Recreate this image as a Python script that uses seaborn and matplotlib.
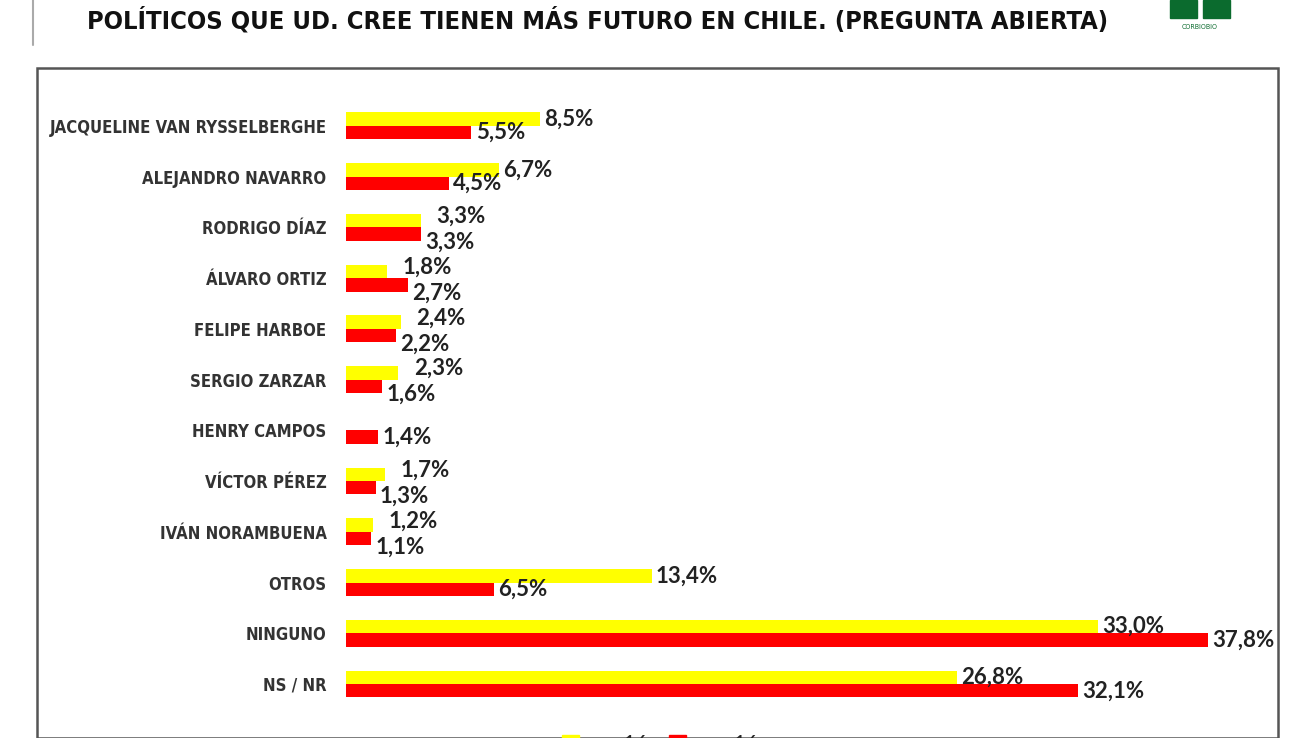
import pandas as pd
import numpy as np
import matplotlib
matplotlib.use("Agg")
import matplotlib.pyplot as plt
import seaborn as sns
from matplotlib.patches import Rectangle

categorias = [
    "JACQUELINE VAN RYSSELBERGHE",
    "ALEJANDRO NAVARRO",
    "RODRIGO DÍAZ",
    "ÁLVARO ORTIZ",
    "FELIPE HARBOE",
    "SERGIO ZARZAR",
    "HENRY CAMPOS",
    "VÍCTOR PÉREZ",
    "IVÁN NORAMBUENA",
    "OTROS",
    "NINGUNO",
    "NS / NR",
]
sep_16 = [8.5, 6.7, 3.3, 1.8, 2.4, 2.3, np.nan, 1.7, 1.2, 13.4, 33.0, 26.8]
nov_16 = [5.5, 4.5, 3.3, 2.7, 2.2, 1.6, 1.4, 1.3, 1.1, 6.5, 37.8, 32.1]
series = ["sep-16", "nov-16"]
colores = ["#FFFF00", "#FF0000"]

titulo = "POLÍTICOS QUE UD. CREE TIENEN MÁS FUTURO EN CHILE. (PREGUNTA ABIERTA)"

df = pd.DataFrame({"categoria": categorias, "sep-16": sep_16, "nov-16": nov_16})
df = df.melt(id_vars="categoria", var_name="serie", value_name="valor").dropna()

sns.set_style("white")
plt.rcParams["font.family"] = ["DejaVu Sans"]
plt.rcParams["font.stretch"] = "condensed"

W, H = 1312, 738
fig = plt.figure(figsize=(13.12, 7.38), dpi=100)

# marco del gráfico
fig.patches.append(Rectangle((37 / W, 0), (1278 - 37) / W, 1 - 68 / H,
                             transform=fig.transFigure, fill=False,
                             edgecolor="#555555", linewidth=1.8))
fig.add_artist(plt.Line2D([33 / W, 33 / W], [1 - 45 / H, 1], color="#aaaaaa", lw=1.5))

ax = fig.add_axes([346 / W, 0.0388, (1260 - 346) / W, 0.825])
sns.barplot(data=df, y="categoria", x="valor", hue="serie", order=categorias,
            hue_order=series, palette=colores, orient="h", width=0.53,
            saturation=1, linewidth=0, ax=ax, legend=False)
ax.set_xlim(0, (1260 - 346) / 22.8)
ax.set_ylim(len(categorias) - 0.5, -0.5)
for s in ax.spines.values():
    s.set_visible(False)
ax.set_xticks([])
ax.set_xlabel("")
ax.set_ylabel("")
ax.tick_params(axis="y", length=0, pad=14)
for t in ax.get_yticklabels():
    t.set_fontsize(12)
    t.set_fontweight("bold")
    t.set_fontstretch("condensed")
    t.set_color("#333333")

# etiquetas: se separan verticalmente cuando los valores están cerca
cercanos = {c for c, a, b in zip(categorias, sep_16, nov_16)
            if not np.isnan(a) and abs(a - b) < 2.0}
for i, cont in enumerate(ax.containers):
    textos = ax.bar_label(cont, labels=[f"{v:.1f}%".replace(".", ",") for v in cont.datavalues],
                          padding=3, fontsize=16, color="#222222", family="Lato",
                          fontweight="bold")
    for barra, txt in zip(cont, textos):
        yc = barra.get_y() + barra.get_height() / 2
        cat = categorias[int(round(yc))]
        if cat in cercanos:
            dy = 3 if i == 0 else -6
            txt.xyann = (txt.xyann[0] + (8 if i == 0 else 0), dy)

fig.text(598 / W, 1 - 20 / H, titulo, ha="center", va="center",
         fontsize=18.3, fontweight="bold", fontstretch="condensed", color="#111111")

# logo
fig.patches.append(Rectangle((1170 / W, 1 - 18 / H), 27 / W, 18 / H,
                             transform=fig.transFigure, color="#0b6b2e"))
fig.patches.append(Rectangle((1203 / W, 1 - 18 / H), 27 / W, 18 / H,
                             transform=fig.transFigure, color="#0b6b2e"))
fig.text(1200 / W, 1 - 27 / H, "CORBIOBIO", ha="center", va="center",
         fontsize=5, color="#0b6b2e")

# leyenda (cortada abajo)
handles = [Rectangle((0, 0), 1, 1, color=c) for c in colores]
fig.legend(handles, series, loc="center", bbox_to_anchor=(660 / W, 1 - 744 / H),
           ncol=2, frameon=False, handlelength=0.8, handleheight=0.8,
           columnspacing=1.0, handletextpad=0.3, prop={"family": "Lato", "size": 15})

fig.savefig("out.png", dpi=100)
